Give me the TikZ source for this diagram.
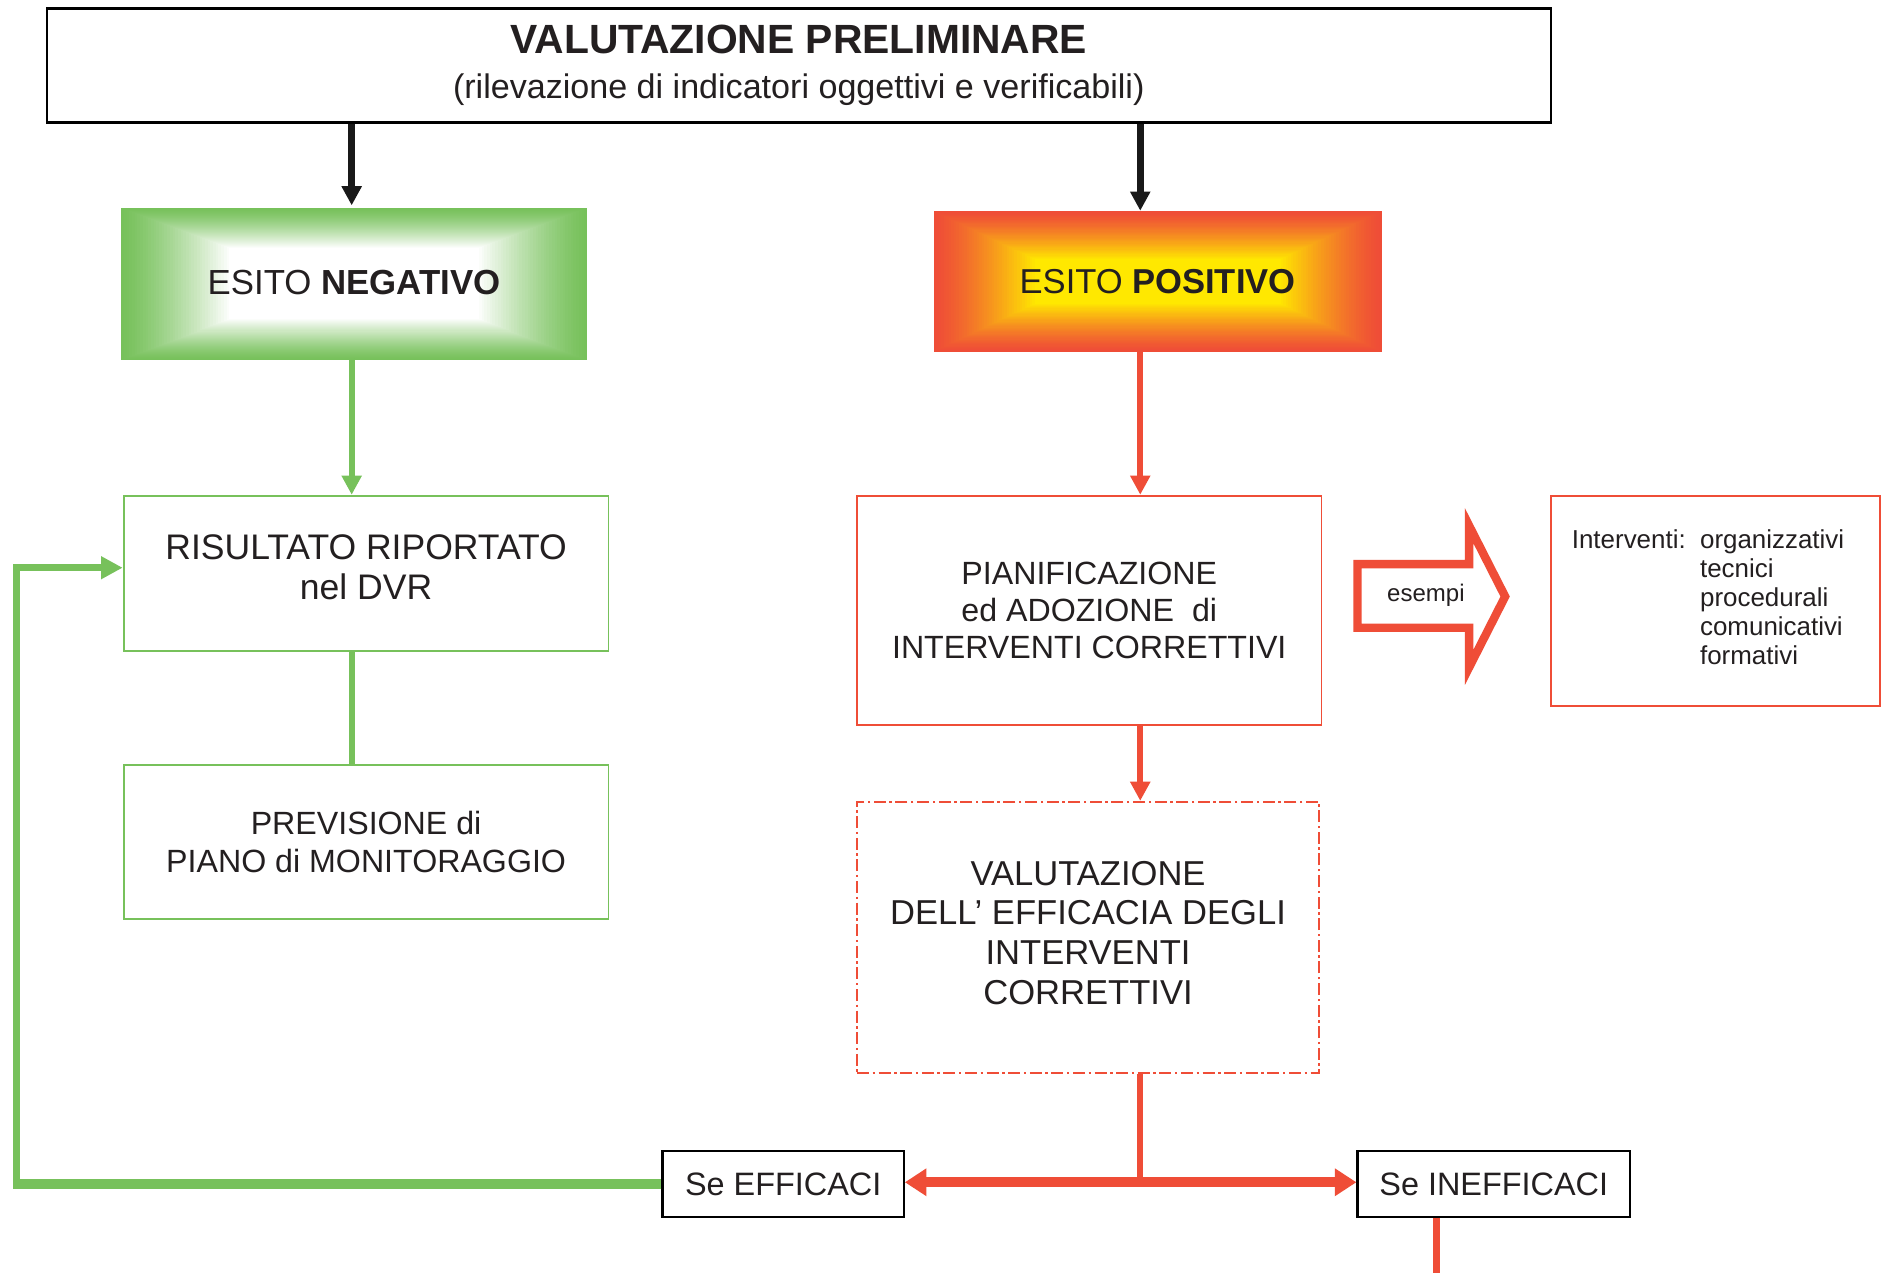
\documentclass[tikz,border=0pt]{standalone}
\usepackage{fontspec}
\setmainfont{Liberation Sans}
\usetikzlibrary{arrows.meta}
\definecolor{gcol}{RGB}{119,193,91}
\definecolor{rcol}{RGB}{239,77,55}
\definecolor{ycol}{RGB}{255,232,0}
\definecolor{tcol}{RGB}{35,31,32}
\begin{document}
\begin{tikzpicture}[x=0.5pt,y=-0.5pt,
  base/.style={inner sep=0pt, align=center, text=tcol, font=\fontsize{14}{16.5}\selectfont},
  gbox/.style={base, draw=gcol, line width=0.8pt},
  rbox/.style={base, draw=rcol, line width=0.8pt},
  kbox/.style={base, draw=black, line width=0.9pt},
  tiphead/.style={-{Triangle[length=8pt,width=8pt]}},
  karrow/.style={draw=black!90, line width=3pt, tiphead},
  garrow/.style={draw=gcol, line width=2.6pt, tiphead},
  gline/.style={draw=gcol, line width=2.6pt},
  rarrow/.style={draw=rcol, line width=2.6pt, tiphead},
  rline/.style={draw=rcol, line width=2.6pt},
  rharrow/.style={draw=rcol, line width=4.2pt, -{Triangle[length=9pt,width=11pt]}},
]
\useasboundingbox (0,0) rectangle (1568,1060);
\fill[white] (0,0) rectangle (1568,1060);

% gradient boxes
\foreach \i in {0,...,40}{
  \pgfmathsetmacro\t{\i/40}
  \pgfmathsetmacro\pc{100-100*\t^1.3}
  \fill[gcol!\pc!white] ({101+\t*90},{173+\t*34}) rectangle ({489-\t*90},{300-\t*34});
  \fill[rcol!\pc!ycol] ({778+\t*84},{176+\t*40}) rectangle ({1151-\t*84},{293-\t*40});
}

\coordinate (xl) at (293,0);
\coordinate (xr) at (950,0);
\coordinate (xi) at (1197,0);
\coordinate (gc) at (14,0);

\node[kbox, line width=1pt, minimum width=626.5pt, minimum height=47.5pt, font=\fontsize{14.2}{18.5}\selectfont] (top) at (665.5,54.5)
  {{\fontsize{17}{18.5}\selectfont\bfseries VALUTAZIONE PRELIMINARE}\\(rilevazione di indicatori oggettivi e verificabili)};

\node[base, minimum width=194pt, minimum height=63.5pt, font=\fontsize{14.5}{16.5}\selectfont] (neg) at (295,235) {ESITO \textbf{NEGATIVO}};
\node[base, minimum width=186.5pt, minimum height=58.5pt, font=\fontsize{14.4}{16.5}\selectfont] (pos) at (964.5,234.5) {ESITO \textbf{POSITIVO}};

\node[gbox, minimum width=202pt, minimum height=64.5pt, font=\fontsize{14.8}{16.5}\selectfont] (ris) at (305,477.5) {RISULTATO RIPORTATO\\nel DVR\rule[-5pt]{0pt}{0pt}};
\node[gbox, minimum width=202pt, minimum height=64.5pt, font=\fontsize{13.4}{15.5}\selectfont] (prev) at (305,701.5) {PREVISIONE di\\PIANO di MONITORAGGIO};

\node[rbox, minimum width=193.5pt, minimum height=95.5pt, font=\fontsize{13.4}{15.25}\selectfont] (pian) at (907.5,508.5)
  {PIANIFICAZIONE\\ed ADOZIONE\ \ di\\INTERVENTI CORRETTIVI};
\node[base, draw=rcol, line width=0.75pt, dash pattern=on 5pt off 1.5pt on 1pt off 1.5pt, minimum width=192.5pt, minimum height=113pt, font=\fontsize{14.4}{16.5}\selectfont] (valu) at (906.5,781)
  {VALUTAZIONE\\DELL’ EFFICACIA DEGLI\\INTERVENTI\\CORRETTIVI\rule[-4pt]{0pt}{0pt}};

\node[rbox, minimum width=137pt, minimum height=87.5pt] (interv) at (1429,500.5) {};
\node[base, anchor=west, align=left, font=\fontsize{10.8}{12.1}\selectfont] (intxt) at ([xshift=9pt]interv.west)
  {\begin{tabular}{@{}l@{\hspace{6pt}}l@{}}Interventi: & organizzativi\\ & tecnici\\ & procedurali\\ & comunicativi\\ & formativi\end{tabular}};

\node[kbox, minimum width=100.5pt, minimum height=27.5pt, font=\fontsize{13.5}{15}\selectfont] (eff) at (652.5,986.5) {Se EFFICACI};
\node[kbox, minimum width=113.5pt, minimum height=27.5pt, font=\fontsize{13.5}{15}\selectfont] (ineff) at (1244.5,986.5) {Se INEFFICACI};

% block arrow "esempi"
\draw[rcol, line width=3.5pt, line join=miter] (1131,470) -- (1224,470) -- (1224,438) -- (1254,497) -- (1224,556) -- (1224,523) -- (1131,523) -- cycle;
\node[base, font=\fontsize{10}{12}\selectfont] (esempi) at (1188,496) {esempi};

% connectors
\draw[karrow] (top.south -| xl) -- (neg.north -| xl);
\draw[karrow] (top.south -| xr) -- (pos.north -| xr);
\draw[garrow] (neg.south -| xl) -- (ris.north -| xl);
\draw[gline] (ris.south -| xl) -- (prev.north -| xl);
\draw[rarrow] (pos.south -| xr) -- (pian.north -| xr);
\draw[rarrow] (pian.south -| xr) -- (valu.north -| xr);
\coordinate (jn) at (950,985);
\draw[rline] (valu.south -| xr) -- (jn);
\draw[rharrow] (jn) -- (eff.east |- jn);
\draw[rharrow] (jn) -- (ineff.west |- jn);
\coordinate (bot) at (1197,1066);
\draw[rline, line width=3pt] (ineff.south -| xi) -- (bot);

% green return path
\coordinate (rin) at ([yshift=2.25pt]ris.west);
\draw[gcol, line width=4.2pt] (eff.west) -- ([xshift=-1.5pt]gc |- eff.west);
\draw[gcol, line width=3pt, line join=miter, -{Triangle[length=9pt,width=9pt]}]
  (gc |- eff.west) -- (gc |- rin) -- (rin);
\end{tikzpicture}
\end{document}
